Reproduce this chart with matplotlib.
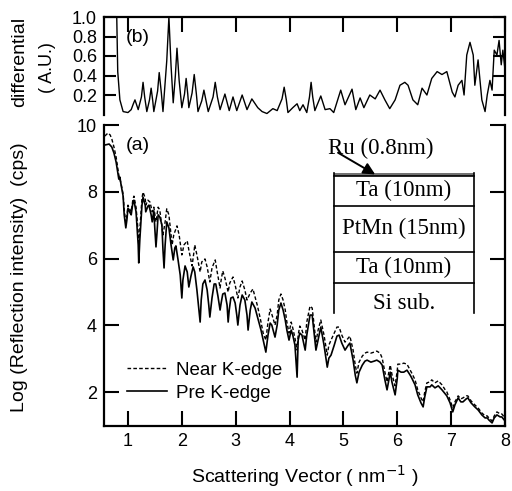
import matplotlib
matplotlib.use("Agg")
import matplotlib.pyplot as plt
from matplotlib.patches import Rectangle

# ---- data -------------------------------------------------------------
# reflectivity, Pre K-edge (solid)
q_pre = [0.57, 0.65, 0.70, 0.74, 0.78, 0.81, 0.83, 0.85, 0.87, 0.91, 0.93, 0.96, 0.98, 1.00,
         1.04, 1.06, 1.09, 1.11, 1.15, 1.19, 1.20, 1.22, 1.26, 1.28, 1.32, 1.33, 1.37, 1.39,
         1.43, 1.45, 1.48, 1.50, 1.52, 1.54, 1.56, 1.59, 1.63, 1.65, 1.67, 1.69, 1.72, 1.76,
         1.80, 1.84, 1.87, 1.89, 1.93, 1.97, 2.00, 2.02, 2.06, 2.10, 2.13, 2.17, 2.21, 2.24,
         2.28, 2.32, 2.34, 2.36, 2.39, 2.43, 2.47, 2.50, 2.52, 2.56, 2.60, 2.63, 2.67, 2.71,
         2.73, 2.76, 2.80, 2.84, 2.86, 2.88, 2.91, 2.95, 2.99, 3.02, 3.04, 3.08, 3.12, 3.17,
         3.21, 3.23, 3.27, 3.30, 3.36, 3.41, 3.47, 3.51, 3.56, 3.60, 3.64, 3.67, 3.73, 3.77,
         3.80, 3.84, 3.88, 3.92, 3.95, 3.99, 4.03, 4.06, 4.10, 4.14, 4.16, 4.19, 4.23, 4.29,
         4.32, 4.38, 4.42, 4.45, 4.49, 4.53, 4.58, 4.64, 4.70, 4.73, 4.77, 4.83, 4.88, 4.92,
         4.97, 5.03, 5.09, 5.12, 5.18, 5.22, 5.25, 5.29, 5.35, 5.40, 5.44, 5.51, 5.57, 5.62,
         5.68, 5.72, 5.77, 5.81, 5.85, 5.87, 5.90, 5.96, 6.00, 6.01, 6.07, 6.12, 6.18, 6.24,
         6.27, 6.33, 6.38, 6.44, 6.48, 6.51, 6.55, 6.61, 6.64, 6.70, 6.76, 6.83, 6.89, 6.92,
         6.98, 7.03, 7.07, 7.13, 7.18, 7.22, 7.28, 7.31, 7.37, 7.44, 7.50, 7.57, 7.63, 7.67,
         7.70, 7.76, 7.80, 7.85, 7.91, 7.94, 8.00]
log_pre = [9.40, 9.43, 9.34, 9.16, 8.89, 8.59, 8.38, 8.44, 8.23, 7.87, 7.31, 6.92, 7.16, 7.51,
           7.37, 7.31, 7.66, 7.75, 7.40, 6.41, 5.87, 6.56, 7.60, 7.84, 7.60, 7.40, 7.57, 7.60,
           7.31, 7.10, 7.43, 6.86, 6.35, 6.80, 7.31, 7.25, 7.01, 6.26, 5.72, 6.41, 7.10, 6.92,
           6.41, 5.96, 6.32, 6.38, 5.96, 5.51, 4.82, 5.36, 5.78, 5.60, 5.15, 5.48, 5.75, 5.60,
           5.06, 4.40, 4.10, 4.76, 5.24, 5.36, 5.06, 4.61, 4.25, 4.82, 5.24, 5.24, 4.88, 4.46,
           4.67, 4.94, 4.97, 4.61, 4.10, 4.46, 4.82, 4.85, 4.67, 4.31, 4.01, 4.61, 4.91, 4.76,
           4.31, 3.86, 4.46, 4.70, 4.52, 4.22, 3.86, 3.56, 3.20, 3.71, 4.07, 4.01, 3.65, 4.01,
           4.46, 4.67, 4.46, 4.16, 3.86, 3.56, 3.86, 3.71, 3.41, 2.45, 3.56, 3.77, 3.71, 3.26,
           3.71, 4.31, 4.31, 3.86, 3.26, 3.56, 3.95, 3.41, 2.75, 3.02, 3.11, 3.41, 3.68, 3.71,
           3.47, 3.26, 3.41, 3.47, 2.96, 2.51, 2.28, 2.60, 2.81, 2.93, 2.96, 2.90, 2.93, 2.96,
           2.90, 2.81, 2.37, 2.07, 2.42, 2.60, 2.31, 1.92, 2.42, 2.66, 2.60, 2.60, 2.66, 2.51,
           2.42, 2.22, 1.92, 1.68, 1.56, 1.86, 2.16, 2.16, 2.22, 2.13, 2.19, 2.07, 1.95, 1.89,
           1.68, 1.41, 1.62, 1.83, 1.71, 1.71, 1.80, 1.83, 1.68, 1.56, 1.47, 1.32, 1.23, 1.23,
           1.17, 1.08, 1.23, 1.32, 1.26, 1.26, 1.14]

# reflectivity, Near K-edge (dashed)
q_near = [0.57, 0.63, 0.67, 0.70, 0.74, 0.78, 0.81, 0.83, 0.87, 0.91, 0.93, 0.96, 0.98, 1.00,
          1.04, 1.06, 1.09, 1.11, 1.15, 1.19, 1.20, 1.22, 1.26, 1.28, 1.32, 1.33, 1.37, 1.41,
          1.45, 1.48, 1.52, 1.56, 1.59, 1.65, 1.69, 1.72, 1.76, 1.82, 1.85, 1.91, 1.95, 2.00,
          2.04, 2.10, 2.13, 2.19, 2.23, 2.24, 2.28, 2.34, 2.37, 2.43, 2.47, 2.52, 2.56, 2.62,
          2.65, 2.71, 2.73, 2.76, 2.80, 2.86, 2.89, 2.95, 2.99, 3.04, 3.08, 3.12, 3.17, 3.21,
          3.27, 3.32, 3.36, 3.40, 3.43, 3.47, 3.51, 3.56, 3.60, 3.64, 3.67, 3.73, 3.77, 3.80,
          3.84, 3.88, 3.92, 3.95, 3.99, 4.03, 4.06, 4.10, 4.14, 4.16, 4.19, 4.23, 4.29, 4.32,
          4.38, 4.42, 4.45, 4.49, 4.53, 4.58, 4.64, 4.70, 4.73, 4.77, 4.83, 4.88, 4.92, 4.97,
          5.03, 5.09, 5.12, 5.18, 5.22, 5.25, 5.29, 5.35, 5.40, 5.44, 5.51, 5.57, 5.62, 5.68,
          5.72, 5.77, 5.81, 5.85, 5.87, 5.90, 5.96, 6.00, 6.01, 6.07, 6.12, 6.18, 6.24, 6.27,
          6.33, 6.38, 6.44, 6.48, 6.51, 6.55, 6.61, 6.64, 6.70, 6.76, 6.83, 6.89, 6.92, 6.98,
          7.03, 7.07, 7.13, 7.18, 7.22, 7.28, 7.31, 7.37, 7.44, 7.50, 7.57, 7.63, 7.67, 7.70,
          7.76, 7.80, 7.85, 7.91, 7.94, 8.00]
log_near = [9.67, 9.76, 9.70, 9.58, 9.34, 9.04, 8.71, 8.50, 8.26, 7.93, 7.46, 7.10, 7.28, 7.60,
            7.46, 7.40, 7.75, 7.87, 7.54, 6.80, 6.41, 6.86, 7.81, 7.99, 7.81, 7.60, 7.75, 7.69,
            7.40, 7.54, 7.10, 7.54, 7.46, 6.71, 7.10, 7.49, 7.31, 6.41, 6.71, 6.98, 6.71, 6.11,
            6.41, 6.53, 6.26, 5.78, 6.26, 6.41, 6.11, 5.60, 5.90, 5.99, 5.75, 5.30, 5.72, 5.96,
            5.66, 5.12, 5.36, 5.63, 5.42, 5.00, 5.27, 5.45, 5.21, 4.82, 5.15, 5.33, 5.06, 4.76,
            4.97, 5.09, 4.85, 4.61, 4.40, 4.10, 3.77, 3.56, 4.10, 4.49, 4.34, 4.01, 4.31, 4.76,
            4.94, 4.76, 4.46, 4.10, 3.77, 4.10, 3.92, 3.62, 3.26, 3.71, 3.98, 3.86, 3.56, 4.10,
            4.58, 4.52, 4.10, 3.50, 3.86, 4.16, 3.71, 3.11, 3.41, 3.56, 3.77, 3.95, 3.95, 3.71,
            3.50, 3.62, 3.68, 3.26, 2.81, 2.57, 2.90, 3.08, 3.17, 3.20, 3.17, 3.20, 3.23, 3.17,
            3.02, 2.60, 2.31, 2.66, 2.81, 2.54, 2.19, 2.66, 2.84, 2.84, 2.87, 2.84, 2.66, 2.57,
            2.37, 2.07, 1.83, 1.71, 2.01, 2.28, 2.31, 2.37, 2.28, 2.34, 2.22, 2.07, 2.01, 1.77,
            1.53, 1.71, 1.89, 1.80, 1.83, 1.89, 1.89, 1.74, 1.62, 1.53, 1.38, 1.29, 1.29, 1.23,
            1.14, 1.29, 1.41, 1.35, 1.35, 1.23]

# differential signal
q_diff = [0.79, 0.81, 0.85, 0.91, 1.00, 1.06, 1.10, 1.13, 1.16, 1.19, 1.25, 1.28, 1.31, 1.35,
          1.40, 1.43, 1.46, 1.48, 1.55, 1.58, 1.62, 1.65, 1.72, 1.76, 1.80, 1.84, 1.88, 1.91,
          1.95, 2.00, 2.05, 2.08, 2.11, 2.13, 2.19, 2.23, 2.27, 2.30, 2.37, 2.41, 2.45, 2.49,
          2.58, 2.62, 2.66, 2.71, 2.80, 2.88, 2.95, 3.02, 3.12, 3.21, 3.30, 3.41, 3.49, 3.58,
          3.69, 3.77, 3.86, 3.90, 3.94, 3.97, 4.06, 4.14, 4.19, 4.25, 4.32, 4.37, 4.40, 4.43,
          4.47, 4.58, 4.66, 4.75, 4.82, 4.95, 5.03, 5.16, 5.23, 5.31, 5.38, 5.49, 5.59, 5.68,
          5.77, 5.86, 5.96, 6.05, 6.14, 6.20, 6.29, 6.38, 6.46, 6.55, 6.64, 6.74, 6.83, 6.92,
          7.02, 7.07, 7.13, 7.20, 7.24, 7.29, 7.35, 7.41, 7.44, 7.50, 7.57, 7.63, 7.67, 7.72,
          7.76, 7.80, 7.85, 7.89, 7.93, 7.96, 8.00]
diff = [1.05, 0.44, 0.15, 0.03, 0.02, 0.05, 0.11, 0.15, 0.10, 0.05, 0.18, 0.33, 0.18, 0.03,
        0.15, 0.27, 0.14, 0.03, 0.24, 0.43, 0.22, 0.03, 0.55, 1.00, 0.50, 0.12, 0.40, 0.68,
        0.35, 0.07, 0.21, 0.37, 0.21, 0.07, 0.22, 0.41, 0.21, 0.03, 0.14, 0.25, 0.14, 0.03,
        0.18, 0.33, 0.18, 0.05, 0.21, 0.04, 0.18, 0.04, 0.20, 0.05, 0.16, 0.07, 0.03, 0.01,
        0.06, 0.04, 0.16, 0.28, 0.15, 0.02, 0.07, 0.11, 0.04, 0.10, 0.02, 0.18, 0.33, 0.18,
        0.04, 0.19, 0.05, 0.06, 0.02, 0.25, 0.10, 0.26, 0.05, 0.17, 0.07, 0.20, 0.16, 0.25,
        0.15, 0.06, 0.15, 0.30, 0.33, 0.30, 0.15, 0.10, 0.27, 0.20, 0.37, 0.44, 0.41, 0.44,
        0.23, 0.18, 0.30, 0.35, 0.20, 0.61, 0.74, 0.61, 0.30, 0.56, 0.15, 0.03, 0.20, 0.35,
        0.25, 0.66, 0.61, 0.76, 0.51, 0.66, 0.46]

x_ticks = [1, 2, 3, 4, 5, 6, 7, 8]
log_ticks = [2, 4, 6, 8, 10]
diff_ticks = [0.2, 0.4, 0.6, 0.8, 1.0]

# sample stack: (label, top, bottom, label height) in units of the log axis
layers = [("Ta (10nm)", 8.47, 7.57, 8.03), ("PtMn (15nm)", 7.57, 6.20, 6.89),
          ("Ta (10nm)", 6.20, 5.27, 5.74), ("Si sub.", 5.27, 4.37, 4.66)]

# ---- figure -----------------------------------------------------------
sans = "Liberation Sans"
serif = "Liberation Serif"
plt.rcParams["font.family"] = sans

fig = plt.figure(figsize=(5.12, 4.91), dpi=100)
axb = fig.add_axes([104 / 512, 1 - 114.5 / 491, 401 / 512, 97.5 / 491])
axa = fig.add_axes([104 / 512, 1 - 425.6 / 491, 401 / 512, 300.6 / 491])

spw = 1.6
for ax in (axa, axb):
    for s in ax.spines.values():
        s.set_linewidth(spw)
    ax.set_xlim(0.555, 8.0)
axb.spines["bottom"].set_visible(False)
axa.spines["top"].set_visible(False)

# differential panel
axb.plot(q_diff, diff, color="black", lw=1.0)
axb.set_ylim(0, 1.0)
axb.set_yticks(diff_ticks)
axb.set_yticklabels([f"{v:.1f}" for v in diff_ticks])
axb.set_xticks(x_ticks)
axb.tick_params(axis="y", direction="in", length=8.5, width=1.5, left=True, right=True,
                labelsize=13, pad=5)
axb.tick_params(axis="x", direction="in", length=10.5, width=1.5, top=True, bottom=False,
                labelbottom=False)
axb.text(1.19, 0.785, "(b)", fontsize=14, ha="center", va="center")

# reflectivity panel
axa.plot(q_near, log_near, color="black", lw=1.0, dashes=(2.6, 1.6), label="Near K-edge")
axa.plot(q_pre, log_pre, color="black", lw=1.2, label="Pre K-edge")
axa.set_ylim(1.0, 10.0)
axa.set_yticks(log_ticks)
axa.set_xticks(x_ticks)
axa.tick_params(axis="y", direction="in", length=10.5, width=1.5, left=True, right=True,
                labelsize=13, pad=5)
axa.tick_params(axis="x", direction="in", length=11, width=1.5, top=False, bottom=True,
                labelsize=13, pad=5)
axa.text(1.19, 9.40, "(a)", fontsize=14, ha="center", va="center")

leg = axa.legend(loc="lower left", bbox_to_anchor=(0.058, 0.08), frameon=False,
                 fontsize=13.5, handlelength=2.1, handletextpad=0.5, labelspacing=0.3,
                 borderpad=0, borderaxespad=0)

# sample stack drawing
xl, xr = 4.825, 7.424
axa.add_patch(Rectangle((xl, 8.47), xr - xl, 0.09, facecolor="0.45", edgecolor="none"))
axa.plot([xl, xr], [8.47, 8.47], color="black", lw=1.2)
for name, top, bot, ylab in layers:
    if name != "Si sub.":
        axa.plot([xl, xr], [bot, bot], color="black", lw=1.2)
    axa.text((xl + xr) / 2, ylab, name, family=serif, fontsize=16.5,
             ha="center", va="center")
axa.plot([xl, xl], [8.56, 4.37], color="black", lw=1.2)
axa.plot([xr, xr], [8.56, 4.37], color="black", lw=1.2)
axa.text(5.70, 9.31, "Ru (0.8nm)", family=serif, fontsize=16.5, ha="center", va="center")
axa.annotate("", xy=(5.59, 8.52), xytext=(4.90, 9.17),
             arrowprops=dict(arrowstyle="-|>,head_length=0.7,head_width=0.35",
                             color="black", lw=1.4, shrinkA=0, shrinkB=0))

axa.set_xlabel("Scattering Vector ( nm$^{-1}$ )", fontsize=14, labelpad=10)

fig.text(20 / 512, 1 - 62 / 491, "differential", rotation=90, fontsize=14,
         ha="center", va="center")
fig.text(48 / 512, 1 - 68 / 491, "( A.U.)", rotation=90, fontsize=13,
         ha="center", va="center")
fig.text(20 / 512, 1 - 277 / 491, "Log (Reflection intensity)  (cps)", rotation=90,
         fontsize=14, ha="center", va="center")

fig.savefig("out.png", dpi=100)
